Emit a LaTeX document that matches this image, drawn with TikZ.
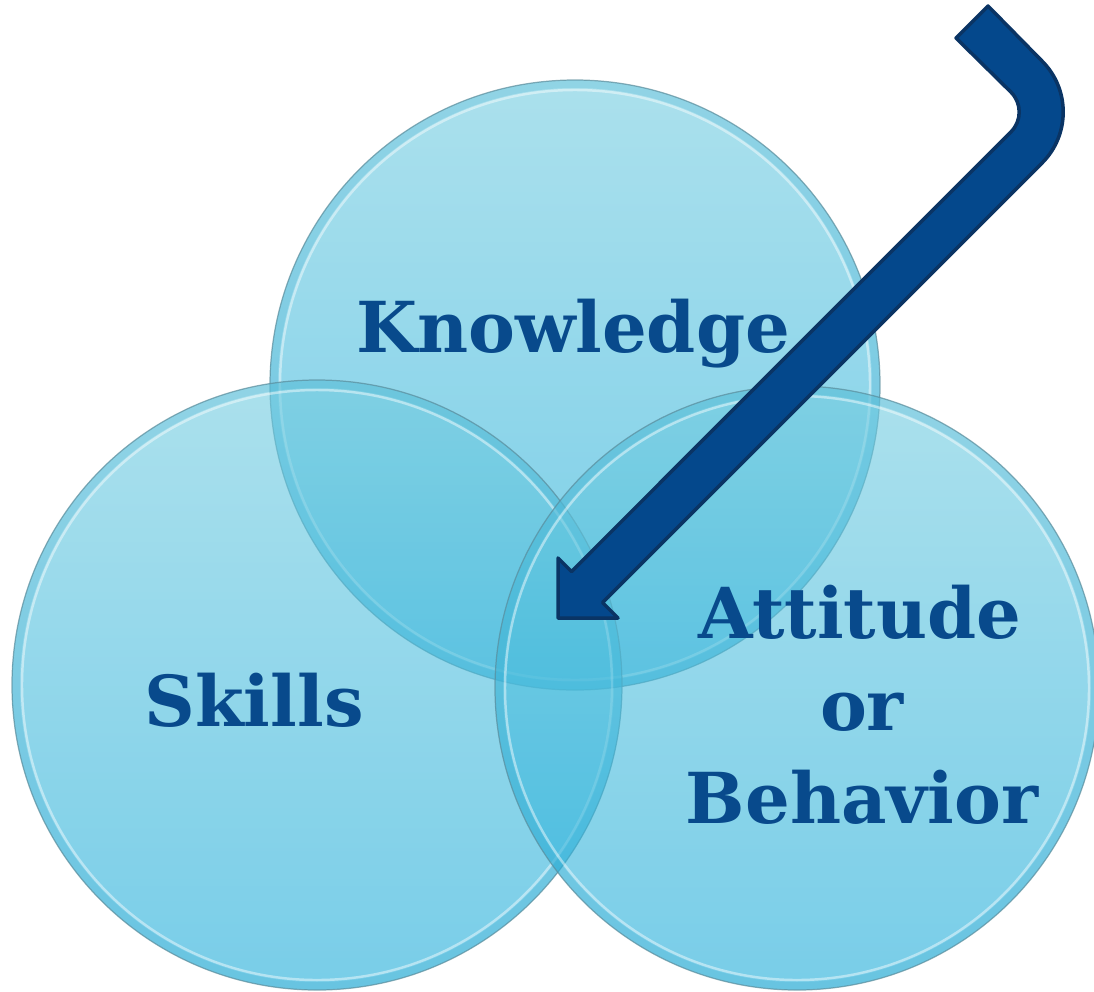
\documentclass[tikz,border=0pt]{standalone}
\usepackage{fontspec}
\setmainfont{DejaVu Serif}
\definecolor{txtblue}{RGB}{8,74,140}
\definecolor{arrfill}{RGB}{4,72,140}
\definecolor{arrline}{RGB}{10,52,100}
\definecolor{ctop}{RGB}{115,204,224}
\definecolor{cbot}{RGB}{30,172,217}
\definecolor{cedge}{RGB}{90,140,155}
\definecolor{cband}{RGB}{40,160,200}
\tikzset{
  bubble/.style={top color=ctop, bottom color=cbot, fill opacity=0.6},
  lbl/.style={text=txtblue, font=\fontsize{40}{52}\selectfont\bfseries, align=center, anchor=base},
}
\newcommand{\bubbledraw}[2]{%
  \shade[bubble] (#1) circle (#2);
  \draw[cband, opacity=0.2, line width=4.5pt] (#1) circle (#2-4);
  \draw[white, opacity=0.45, line width=1.4pt] (#1) circle (#2-10);
  \draw[cedge, opacity=0.7, line width=0.7pt] (#1) circle (#2);
}
\begin{document}
\begin{tikzpicture}[x=0.02cm, y=-0.02cm]
\useasboundingbox (0,0) rectangle (1094,991);
\coordinate (kc) at (575,385);
\coordinate (sc) at (317,685);
\coordinate (ac) at (797,688);
\bubbledraw{kc}{305}
\bubbledraw{sc}{305}
\bubbledraw{ac}{302}
% bent arrow
\fill[arrfill, draw=arrline, line width=2pt, line join=round]
  (988,6) -- (1042.1,61.1) arc[start angle=-45, end angle=45, radius=72]
  -- (602.5,602.5) -- (618,618) -- (558,618) -- (558,558) -- (571.5,571.5)
  -- (1011,131.8) arc[start angle=45, end angle=-45, radius=28]
  -- (956,38) -- cycle;
\node[lbl] (know) at (573,352) {Knowledge};
\node[lbl] (skill) at (254,726) {Skills};
\node[lbl] (att1) at (860,638) {Attitude};
\node[lbl] (att2) at (862,730) {or};
\node[lbl] (att3) at (862,823) {Behavior};
\end{tikzpicture}
\end{document}
